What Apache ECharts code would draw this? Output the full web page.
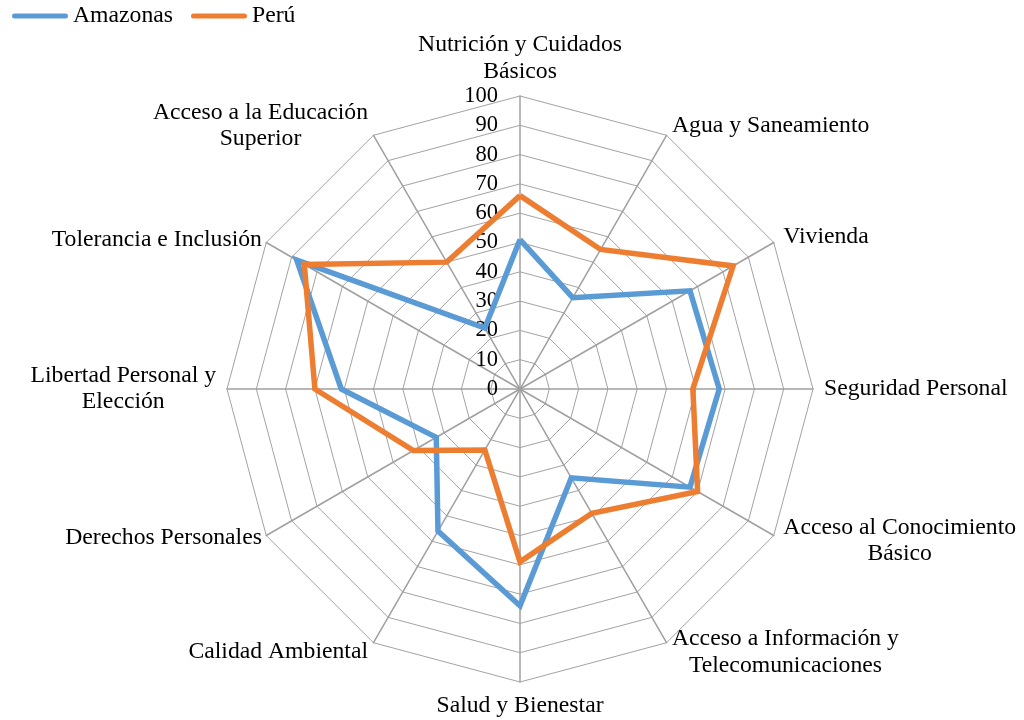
<!DOCTYPE html>
<html>
<head>
<meta charset="utf-8">
<script src="https://cdn.jsdelivr.net/npm/echarts@6/dist/echarts.min.js"></script>
<style>
html,body{margin:0;padding:0;background:#fff;}
#chart{width:1024px;height:720px;}
</style>
</head>
<body>
<div id="chart"></div>
<script>
// Categories, clockwise from the top
var categories = [
  'Nutrición y Cuidados\nBásicos',
  'Agua y Saneamiento',
  'Vivienda',
  'Seguridad Personal',
  'Acceso al Conocimiento\nBásico',
  'Acceso a Información y\nTelecomunicaciones',
  'Salud y Bienestar',
  'Calidad Ambiental',
  'Derechos Personales',
  'Libertad Personal y\nElección',
  'Tolerancia e Inclusión',
  'Acceso a la Educación\nSuperior'
];
var amazonas = [51, 36, 67, 68, 67, 35, 74, 56, 33, 61, 88, 24];
var peru     = [66, 55, 84, 59, 70, 49, 59, 24, 42, 70, 85, 50];
var seriesNames = ['Amazonas', 'Perú'];
var axisMin = 0, axisMax = 100, axisSplits = 10;

// ECharts radar runs counter-clockwise; reorder to draw clockwise
var order = [0];
for (var i = categories.length - 1; i >= 1; i--) order.push(i);
function reorder(arr) { return order.map(function (k) { return arr[k]; }); }

var FONT = "'Liberation Serif', 'Times New Roman', serif";
var NAME_SIZE = 23.7;

var tightNames = { 'Derechos Personales': 5, 'Tolerancia e Inclusión': 5 };

var indicators = reorder(categories).map(function (name, idx) {
  var ind = { name: name, min: axisMin, max: axisMax };
  if (tightNames[name] != null) ind.nameGap = tightNames[name];
  if (idx === 0) {
    ind.axisLabel = {
      show: true, margin: 22, fontSize: 22.5, fontFamily: FONT, color: '#000'
    };
  }
  return ind;
});

var chart = echarts.init(document.getElementById('chart'), null, { renderer: 'canvas' });
var capsule = 'path://M2.5,0 L53.5,0 A2.5,2.5 0 0 1 53.5,5 L2.5,5 A2.5,2.5 0 0 1 2.5,0 Z';

chart.setOption({
  animation: false,
  backgroundColor: '#fff',
  color: ['#5B9BD5', '#ED7D31'],
  legend: {
    data: seriesNames,
    left: 12, top: 4, padding: 0,
    icon: capsule,
    itemWidth: 56, itemHeight: 5.5, itemGap: 18,
    textStyle: { fontSize: NAME_SIZE, fontFamily: FONT, color: '#000' }
  },
  radar: {
    center: [520, 389],
    radius: 293,
    startAngle: 90,
    shape: 'polygon',
    splitNumber: axisSplits,
    indicator: indicators,
    nameGap: 11,
    axisName: {
      color: '#000',
      fontSize: NAME_SIZE,
      fontFamily: FONT,
      lineHeight: 26.5,
      formatter: function (name) {
        return name.split('\n').map(function (s) { return '{c|' + s + '}'; }).join('\n');
      },
      rich: {
        c: { align: 'center', fontSize: NAME_SIZE, fontFamily: FONT, color: '#000', lineHeight: 26.5 }
      }
    },
    axisLine: { show: true, lineStyle: { color: '#a0a0a0', width: 1.5 } },
    axisTick: { show: false },
    axisLabel: { show: false },
    splitLine: { show: true, lineStyle: { color: '#a3a3a3', width: 1 } },
    splitArea: { show: false }
  },
  series: [{
    type: 'radar',
    symbol: 'none',
    data: [
      { name: seriesNames[0], value: reorder(amazonas),
        lineStyle: { width: 5.5, color: '#5B9BD5', join: 'miter', miterLimit: 4 },
        itemStyle: { color: '#5B9BD5' } },
      { name: seriesNames[1], value: reorder(peru),
        lineStyle: { width: 5.5, color: '#ED7D31', join: 'miter', miterLimit: 4 },
        itemStyle: { color: '#ED7D31' } }
    ]
  }]
});
</script>
</body>
</html>
